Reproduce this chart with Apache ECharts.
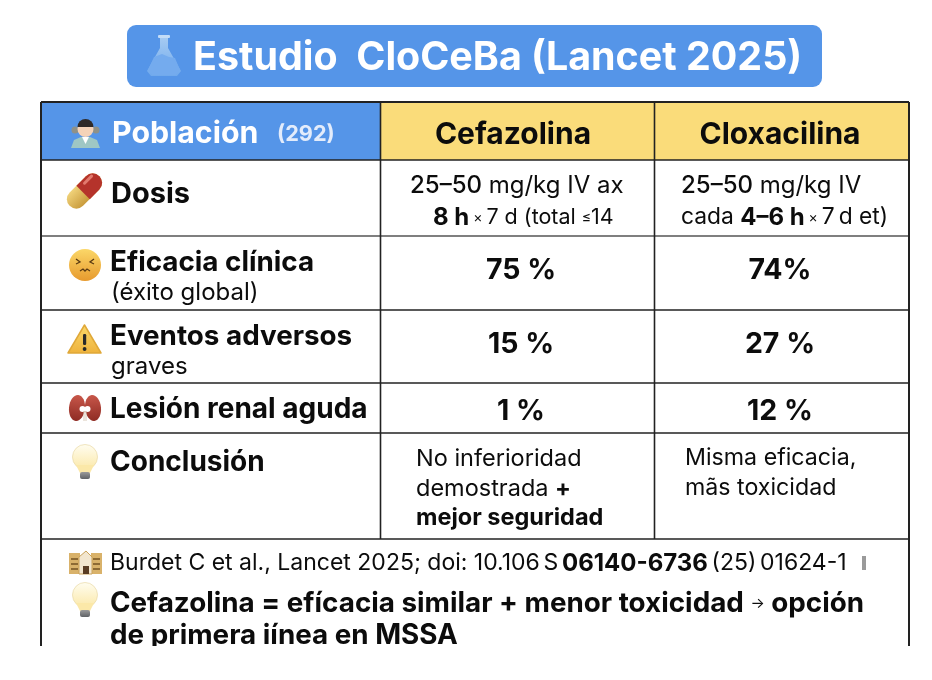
<!DOCTYPE html>
<html>
<head>
<meta charset="utf-8">
<title>Estudio CloCeBa</title>
<script src="https://cdn.jsdelivr.net/npm/echarts@6/dist/echarts.min.js"></script>
<style>
  html, body { margin: 0; padding: 0; background: #fff; }
  #main { width: 932px; height: 680px; }
</style>
</head>
<body>
<div id="main"></div>
<script>
// table content
var titleText = 'Estudio  CloCeBa (Lancet 2025)';
var headPopulation = 'Población';
var headCount = '(292)';
var arms = ['Cefazolina', 'Cloxacilina'];
var outcomeNames = ['Eficacia clínica', 'Eventos adversos', 'Lesión renal aguda'];
var outcomeNotes = ['(éxito global)', 'graves', ''];
var cefazolinaValues = ['75 %', '15 %', '1 %'];
var cloxacilinaValues = ['74%', '27 %', '12 %'];
var doseCefazolina = ['{m|25–50} mg/kg IV ax', '{b|8 h}{s| × }7 d (total {s|≤}14'];
var doseCloxacilina = ['{m|25–50} mg/kg IV', 'cada {b|4–6 h}{s| × }7{s| }d et)'];
var conclusionCefazolina = ['No inferioridad', 'demostrada {b|+}', '{b|mejor seguridad}'];
var conclusionCloxacilina = ['Misma eficacia,', 'mãs toxicidad'];
var reference = 'Burdet C et al., Lancet 2025; doi: 10.106{s| }S{s| }{b|06140-6736}{s| }(25){s| }01624-1';
var takeaway = ['Cefazolina = efícacia similar + menor toxicidad {s|→} opción', 'de primera iínea en MSSA'];

// table geometry (page pixels, used through the hidden axes)
var colEdges = [41, 380.5, 654.5, 909];
var rowEdges = [102, 160, 236, 310, 383, 433, 539];
var tableBottom = 646;
var outcomeY = [[261, 291], [335, 365], [408, 0]];
var valueY = [269, 343, 410];

var INK = '#0c0c0c';
var FONT = 'Inter';
var regular = 24, bodySize = 23.5, labelSize = 27.8, headSize = 30;

function textRow(text, x, y, size, weight, align, fill, rich) {
  return { text: text, x: x, y: y + 1.5, size: size, weight: weight, align: align || 'left', fill: fill || INK, rich: rich };
}

function richFor(size, smallSize, boldSize) {
  return {
    b: { fontFamily: FONT, fontWeight: 700, fontSize: boldSize || size, fill: INK },
    m: { fontFamily: FONT, fontWeight: 500, fontSize: size, fill: INK },
    s: { fontFamily: FONT, fontWeight: 400, fontSize: smallSize, fill: INK }
  };
}
var richDose = richFor(regular, 14);
var richBody = richFor(bodySize, 14);

var textRows = [];
textRows.push(textRow(titleText, 193, 57, 39.4, 700, 'left', '#ffffff'));
textRows.push(textRow(headPopulation, 112, 132, 30.3, 700, 'left', '#ffffff'));
textRows.push(textRow(headCount, 277, 133, 21.7, 700, 'left', '#e3ecfb'));
textRows.push(textRow(arms[0], 513, 133, headSize, 700, 'center'));
textRows.push(textRow(arms[1], 780, 133, headSize, 700, 'center'));
textRows.push(textRow('Dosis', 111, 193, 29, 700));
textRows.push(textRow(doseCefazolina[0], 410, 184, regular, 400, 'left', INK, richDose));
textRows.push(textRow(doseCefazolina[1], 433, 216, 21.5, 400, 'left', INK, richDose));
textRows.push(textRow(doseCloxacilina[0], 681, 184, regular, 400, 'left', INK, richDose));
textRows.push(textRow(doseCloxacilina[1], 681, 216, 22.8, 400, 'left', INK, richDose));
outcomeNames.forEach(function (name, i) {
  textRows.push(textRow(name, 110, outcomeY[i][0], i === 2 ? 28 : labelSize, 700));
  if (outcomeNotes[i]) textRows.push(textRow(outcomeNotes[i], 111, outcomeY[i][1], 24, 400));
  textRows.push(textRow(cefazolinaValues[i], 521, valueY[i], 28.5, 700, 'center'));
  textRows.push(textRow(cloxacilinaValues[i], 780, valueY[i], 28.5, 700, 'center'));
});
textRows.push(textRow('Conclusión', 110, 461, 28, 700));
conclusionCefazolina.forEach(function (line, i) {
  textRows.push(textRow(line, 416, [457, 487, 516][i], bodySize, 400, 'left', INK, richBody));
});
conclusionCloxacilina.forEach(function (line, i) {
  textRows.push(textRow(line, 685, [457, 487][i], 23.2, 400, 'left', INK, richBody));
});
textRows.push(textRow(reference, 110, 562, 23, 400, 'left', INK, richFor(23, 13, 24)));
textRows.push(textRow(takeaway[0], 110, 602, 27.8, 700, 'left', INK, richFor(27.8, 15)));
textRows.push(textRow(takeaway[1], 110, 634, 27.8, 700));

function renderFrame(params, api) {
  if (params.dataIndex > 0) return;
  var p = function (x, y) { return api.coord([x, y]); };
  var kids = [];
  function fill(x0, y0, x1, y1, color, r) {
    var a = p(x0, y0), b = p(x1, y1);
    kids.push({ type: 'rect', shape: { x: a[0], y: a[1], width: b[0] - a[0], height: b[1] - a[1], r: r || 0 }, style: { fill: color } });
  }
  function rule(x0, y0, x1, y1, color, w) {
    var a = p(x0, y0), b = p(x1, y1);
    kids.push({ type: 'line', shape: { x1: a[0], y1: a[1], x2: b[0], y2: b[1] }, style: { stroke: color, lineWidth: w } });
  }
  fill(127, 25, 822, 87, '#5595e8', 9);
  fill(colEdges[0], rowEdges[0], colEdges[1], rowEdges[1], '#5595e8');
  fill(colEdges[1], rowEdges[0], colEdges[3], rowEdges[1], '#fadc7a');
  rowEdges.forEach(function (y, i) {
    rule(colEdges[0], y, colEdges[3], y, i === 2 ? '#555555' : '#222222', i === 0 ? 2 : 1.6);
  });
  rule(colEdges[1], rowEdges[0], colEdges[1], rowEdges[6], '#222222', 1.6);
  rule(colEdges[2], rowEdges[0], colEdges[2], rowEdges[6], '#222222', 1.6);
  rule(colEdges[0], rowEdges[0], colEdges[0], tableBottom, '#222222', 2);
  rule(colEdges[3], rowEdges[0], colEdges[3], tableBottom, '#222222', 2);
  return { type: 'group', children: kids };
}

function renderText(params, api) {
  var row = textRows[api.value(2)];
  var at = api.coord([api.value(0), api.value(1)]);
  return {
    type: 'text',
    style: {
      x: at[0], y: at[1], text: row.text, align: row.align, verticalAlign: 'middle',
      fontFamily: FONT, fontSize: row.size, fontWeight: row.weight, fill: row.fill,
      rich: row.rich
    }
  };
}

// little hand drawn icons, the page has no emoji font
function grad(c0, c1) {
  return new echarts.graphic.LinearGradient(0, 0, 0, 1, [{ offset: 0, color: c0 }, { offset: 1, color: c1 }]);
}
function bulb(x, y) {
  return {
    type: 'group', x: x, y: y, children: [
      { type: 'circle', shape: { cx: 13, cy: 12, r: 12.5 }, style: { fill: grad('#fffdf0', '#fbe8a8'), stroke: '#e8d9a6', lineWidth: 0.7 } },
      { type: 'polygon', shape: { points: [[4, 20], [22, 20], [18, 28], [8, 28]] }, style: { fill: '#fbe8a8' } },
      { type: 'rect', shape: { x: 8, y: 27, width: 10, height: 7, r: 2 }, style: { fill: grad('#9a9a9a', '#5f6266') } }
    ]
  };
}
function renderIcons() {
  return { type: 'group', children: [
    { type: 'group', x: 147, y: 35, children: [
      { type: 'polygon', shape: { points: [[13, 0], [21, 0], [21, 13], [34, 36], [30, 41], [4, 41], [0, 36], [13, 13]] }, style: { fill: grad('#a9cdf3', '#6fa9ec') } },
      { type: 'polygon', shape: { points: [[7, 22], [15, 19], [22, 22], [28, 23], [33, 35], [29, 40], [5, 40], [1, 35]] }, style: { fill: '#74abee' } },
      { type: 'rect', shape: { x: 11, y: 0, width: 12, height: 3, r: 1 }, style: { fill: '#c3dcf7' } }
    ] },
    { type: 'group', x: 71, y: 120, children: [
      { type: 'polygon', shape: { points: [[0, 28], [3, 20], [10, 17], [19, 17], [26, 20], [29, 28]] }, style: { fill: '#9fc7c4' } },
      { type: 'polygon', shape: { points: [[11, 17], [18, 17], [14.5, 24]] }, style: { fill: '#ffffff' } },
      { type: 'circle', shape: { cx: 4, cy: 10, r: 3.5 }, style: { fill: '#8f9188' } },
      { type: 'circle', shape: { cx: 25, cy: 10, r: 3.5 }, style: { fill: '#8f9188' } },
      { type: 'circle', shape: { cx: 14.5, cy: 9, r: 8 }, style: { fill: '#f5d3b8' } },
      { type: 'sector', shape: { cx: 14.5, cy: 7, r0: 0, r: 8, startAngle: Math.PI, endAngle: 2 * Math.PI }, style: { fill: '#2f2a28' } }
    ] },
    { type: 'group', x: 84.5, y: 191, rotation: Math.PI / 4, children: [
      { type: 'rect', shape: { x: -21, y: -9.5, width: 42, height: 19, r: 9.5 }, style: { fill: grad('#f0d27a', '#c99b3c') } },
      { type: 'rect', shape: { x: -2, y: -9.5, width: 23, height: 19, r: [0, 9.5, 9.5, 0] }, style: { fill: '#b5332b' } },
      { type: 'rect', shape: { x: 4, y: -7, width: 13, height: 3, r: 1.5 }, style: { fill: '#e27a6e' } }
    ] },
    { type: 'group', x: 85, y: 265, children: [
      { type: 'circle', shape: { cx: 0, cy: 0, r: 16 }, style: { fill: grad('#fbd768', '#e79a2e') } },
      { type: 'polyline', shape: { points: [[-9, -6], [-5, -3], [-9, -1]] }, style: { stroke: '#5a3a12', fill: null, lineWidth: 1.3 } },
      { type: 'polyline', shape: { points: [[9, -6], [5, -3], [9, -1]] }, style: { stroke: '#5a3a12', fill: null, lineWidth: 1.3 } },
      { type: 'polyline', shape: { points: [[-5, 6], [-2, 4], [0, 6], [2, 4], [5, 6]] }, style: { stroke: '#5a3a12', fill: null, lineWidth: 1.3 } }
    ] },
    { type: 'group', x: 68, y: 325, children: [
      { type: 'polygon', shape: { points: [[16.5, 0], [33, 28], [0, 28]] }, style: { fill: grad('#fbd96a', '#eeb23c'), stroke: '#e0a838', lineWidth: 1.5, lineJoin: 'round' } },
      { type: 'rect', shape: { x: 15, y: 9, width: 3.2, height: 11, r: 1.2 }, style: { fill: '#2a2a2a' } },
      { type: 'circle', shape: { cx: 16.6, cy: 24, r: 1.9 }, style: { fill: '#2a2a2a' } }
    ] },
    { type: 'group', x: 85, y: 408, children: [
      { type: 'ellipse', x: -8, rotation: -0.1, shape: { cx: 0, cy: 0, rx: 8, ry: 13 }, style: { fill: grad('#c8574a', '#8f2c24') } },
      { type: 'ellipse', x: 8, rotation: 0.1, shape: { cx: 0, cy: 0, rx: 8, ry: 13 }, style: { fill: grad('#c8574a', '#8f2c24') } },
      { type: 'circle', shape: { cx: -2.5, cy: 1, r: 3 }, style: { fill: '#ffffff' } },
      { type: 'circle', shape: { cx: 2.5, cy: 1, r: 3 }, style: { fill: '#ffffff' } },
      { type: 'line', shape: { x1: -1, y1: 3, x2: -1, y2: 13 }, style: { stroke: '#d8c9b8', lineWidth: 1 } },
      { type: 'line', shape: { x1: 1, y1: 3, x2: 1, y2: 13 }, style: { stroke: '#d8c9b8', lineWidth: 1 } }
    ] },
    bulb(72, 445),
    bulb(72, 583),
    { type: 'group', x: 69, y: 551, children: [
      { type: 'rect', shape: { x: 0, y: 2, width: 11, height: 21 }, style: { fill: '#d9b26a' } },
      { type: 'rect', shape: { x: 22, y: 2, width: 11, height: 21 }, style: { fill: '#d9b26a' } },
      { type: 'polygon', shape: { points: [[10, 6], [17, 0], [23, 6], [23, 23], [10, 23]] }, style: { fill: '#f2e6cf', stroke: '#c9a15a', lineWidth: 1 } },
      { type: 'rect', shape: { x: 14, y: 15, width: 6, height: 8 }, style: { fill: '#5a3d24' } },
      { type: 'rect', shape: { x: 2, y: 7, width: 7, height: 2 }, style: { fill: '#8d6a34' } },
      { type: 'rect', shape: { x: 2, y: 12, width: 7, height: 2 }, style: { fill: '#8d6a34' } },
      { type: 'rect', shape: { x: 2, y: 17, width: 7, height: 2 }, style: { fill: '#8d6a34' } },
      { type: 'rect', shape: { x: 24, y: 7, width: 7, height: 2 }, style: { fill: '#8d6a34' } },
      { type: 'rect', shape: { x: 24, y: 12, width: 7, height: 2 }, style: { fill: '#8d6a34' } },
      { type: 'rect', shape: { x: 24, y: 17, width: 7, height: 2 }, style: { fill: '#8d6a34' } }
    ] },
    { type: 'rect', shape: { x: 862, y: 556, width: 4, height: 14 }, style: { fill: '#9a9a9a' } },
    // the picture is cut off here
    { type: 'rect', shape: { x: 0, y: 646, width: 932, height: 34 }, style: { fill: '#ffffff' } }
  ] };
}

var chart = echarts.init(document.getElementById('main'), null, { renderer: 'canvas' });
chart.setOption({
  animation: false,
  backgroundColor: '#ffffff',
  grid: { left: 0, right: 0, top: 0, bottom: 0 },
  xAxis: { type: 'value', min: 0, max: 932, show: false },
  yAxis: { type: 'value', min: 0, max: 680, inverse: true, show: false },
  series: [
    { type: 'custom', coordinateSystem: 'cartesian2d', silent: true, clip: false, z: 1, renderItem: renderFrame, data: [[0, 0]] },
    {
      type: 'custom', coordinateSystem: 'cartesian2d', silent: true, clip: false, z: 2, renderItem: renderText,
      encode: { x: 0, y: 1 },
      data: textRows.map(function (row, i) { return [row.x, row.y, i]; })
    },
    { type: 'custom', coordinateSystem: 'cartesian2d', silent: true, clip: false, z: 3, renderItem: renderIcons, data: [[0, 0]] }
  ]
});
</script>
</body>
</html>
